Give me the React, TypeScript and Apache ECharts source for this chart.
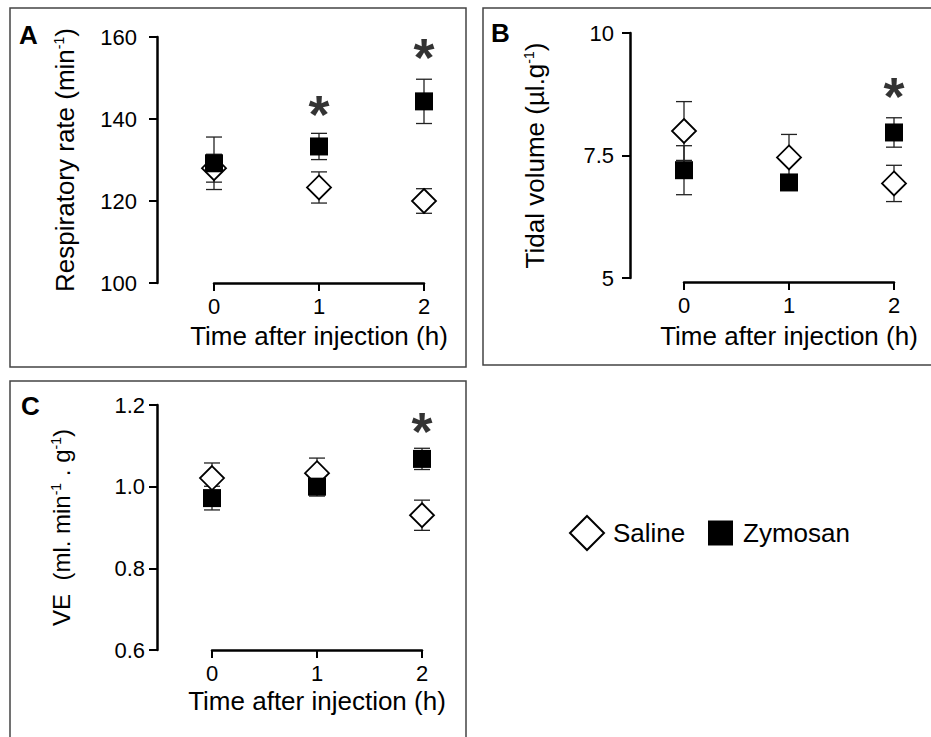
import React, { useEffect, useRef } from 'react';
import * as echarts from 'echarts';

// ---------- data ----------
const timePoints = [0, 1, 2];

// Panel A: respiratory rate (min^-1)
const rrSalineMean = [128, 123.3, 120];
const rrSalineSem = [3.4, 3.8, 3.0];
const rrZymosanMean = [129.2, 133.3, 144.3];
const rrZymosanSem = [6.4, 3.2, 5.4];
const rrStarX = [1, 2];
const rrStarY = [143.2, 157.1];
const rrAxis = { min: 100, max: 160, interval: 20 };

// Panel B: tidal volume (µl.g^-1)
const tvSalineMean = [8.0, 7.46, 6.93];
const tvSalineSem = [0.6, 0.47, 0.37];
const tvZymosanMean = [7.2, 6.95, 7.97];
const tvZymosanSem = [0.5, 0.1, 0.3];
const tvStarX = [2];
const tvStarY = [8.88];
const tvAxis = { min: 5, max: 10, interval: 2.5 };

// Panel C: VE (ml.min^-1.g^-1)
const veSalineMean = [1.021, 1.033, 0.93];
const veSalineSem = [0.037, 0.037, 0.037];
const veZymosanMean = [0.972, 1.0, 1.068];
const veZymosanSem = [0.029, 0.023, 0.026];
const veStarX = [2];
const veStarY = [1.156];
const veAxis = { min: 0.6, max: 1.2, interval: 0.2 };

const xTitle = 'Time after injection (h)';
const FONT = 'Liberation Sans, Arial, Helvetica, sans-serif';

type Panel = {
  salMean: number[]; salSem: number[]; zyMean: number[]; zySem: number[];
  starX: number[]; starY: number[];
  axis: { min: number; max: number; interval: number };
  grid: { left: number; top: number; width: number; height: number };
  yOffset: number; xOffset: number; labelMargin: number; nameGap: number; xNameGap: number;
  yName: string; yNameSize: number; fmt: (v: number) => string;
};

const panels: Panel[] = [
  {
    salMean: rrSalineMean, salSem: rrSalineSem, zyMean: rrZymosanMean, zySem: rrZymosanSem,
    starX: rrStarX, starY: rrStarY, axis: rrAxis,
    grid: { left: 214, top: 37, width: 210, height: 246 },
    yOffset: 57, xOffset: 0, labelMargin: 20, nameGap: 79, xNameGap: 40,
    yName: '{m|Respiratory rate (min}{s|-1}{m|)}', yNameSize: 26,
    fmt: (v) => String(Math.round(v)),
  },
  {
    salMean: tvSalineMean, salSem: tvSalineSem, zyMean: tvZymosanMean, zySem: tvZymosanSem,
    starX: tvStarX, starY: tvStarY, axis: tvAxis,
    grid: { left: 684, top: 33, width: 210, height: 245 },
    yOffset: 54, xOffset: 4, labelMargin: 16, nameGap: 82, xNameGap: 41,
    yName: '{m|Tidal volume (µl.g}{s|-1}{m|)}', yNameSize: 26,
    fmt: (v) => (Math.abs(v - Math.round(v)) < 1e-6 ? String(Math.round(v)) : v.toFixed(1)),
  },
  {
    salMean: veSalineMean, salSem: veSalineSem, zyMean: veZymosanMean, zySem: veZymosanSem,
    starX: veStarX, starY: veStarY, axis: veAxis,
    grid: { left: 212, top: 405, width: 210, height: 245 },
    yOffset: 55, xOffset: 0, labelMargin: 12, nameGap: 84, xNameGap: 38,
    yName: '{m|VE  (ml. min}{s|-1}{m| . g}{s|-1}{m|)}', yNameSize: 24,
    fmt: (v) => v.toFixed(1),
  },
];

function errorBarSeries(name: string, idx: number, mean: number[], sem: number[]) {
  return {
    type: 'custom',
    name,
    xAxisIndex: idx,
    yAxisIndex: idx,
    z: 1,
    silent: true,
    encode: { x: 0, y: [1, 2] },
    data: timePoints.map((t, i) => [t, mean[i] - sem[i], mean[i] + sem[i]]),
    renderItem: (_params: any, api: any) => {
      const x = api.value(0);
      const a = api.coord([x, api.value(1)]);
      const b = api.coord([x, api.value(2)]);
      const hw = 8;
      const style = { stroke: '#222', lineWidth: 1.3 };
      return {
        type: 'group',
        children: [
          { type: 'line', shape: { x1: a[0], y1: a[1], x2: b[0], y2: b[1] }, style },
          { type: 'line', shape: { x1: a[0] - hw, y1: a[1], x2: a[0] + hw, y2: a[1] }, style },
          { type: 'line', shape: { x1: b[0] - hw, y1: b[1], x2: b[0] + hw, y2: b[1] }, style },
        ],
      };
    },
  };
}

function buildOption() {
  const grids: any[] = [];
  const xAxes: any[] = [];
  const yAxes: any[] = [];
  const series: any[] = [];

  panels.forEach((p, i) => {
    grids.push({ ...p.grid, containLabel: false });
    xAxes.push({
      gridIndex: i,
      type: 'value',
      min: 0,
      max: 2,
      interval: 1,
      offset: p.xOffset,
      axisLine: { show: true, onZero: false, lineStyle: { color: '#000', width: 2.5 } },
      axisTick: { show: true, length: 8, lineStyle: { color: '#000', width: 2 } },
      axisLabel: { fontSize: 22, color: '#000', margin: 12, fontFamily: FONT },
      splitLine: { show: false },
      name: xTitle,
      nameLocation: 'middle',
      nameGap: p.xNameGap,
      nameTextStyle: { fontSize: 26, color: '#000', fontFamily: FONT },
    });
    yAxes.push({
      gridIndex: i,
      type: 'value',
      min: p.axis.min,
      max: p.axis.max,
      interval: p.axis.interval,
      offset: p.yOffset,
      axisLine: { show: true, onZero: false, lineStyle: { color: '#000', width: 2.5 } },
      axisTick: { show: true, length: 8, lineStyle: { color: '#000', width: 2 } },
      axisLabel: { fontSize: 22, color: '#000', margin: p.labelMargin, formatter: p.fmt, fontFamily: FONT },
      splitLine: { show: false },
      name: p.yName,
      nameLocation: 'middle',
      nameGap: p.nameGap,
      nameRotate: 90,
      nameTextStyle: {
        color: '#000',
        fontFamily: FONT,
        rich: {
          m: { fontSize: p.yNameSize, color: '#000', fontFamily: FONT, verticalAlign: 'bottom' },
          s: { fontSize: 14, color: '#000', fontFamily: FONT, verticalAlign: 'top' },
        },
      },
    });

    series.push(errorBarSeries('Saline err', i, p.salMean, p.salSem));
    series.push(errorBarSeries('Zymosan err', i, p.zyMean, p.zySem));
    series.push({
      type: 'scatter',
      name: 'Saline',
      xAxisIndex: i,
      yAxisIndex: i,
      z: 2,
      symbol: 'diamond',
      symbolSize: 24,
      itemStyle: { color: '#fff', borderColor: '#000', borderWidth: 1.8, opacity: 1 },
      data: timePoints.map((t, k) => [t, p.salMean[k]]),
    });
    series.push({
      type: 'scatter',
      name: 'Zymosan',
      xAxisIndex: i,
      yAxisIndex: i,
      z: 3,
      symbol: 'rect',
      symbolSize: 18,
      itemStyle: { color: '#000', borderColor: '#000', borderWidth: 0, opacity: 1 },
      data: timePoints.map((t, k) => [t, p.zyMean[k]]),
    });
    series.push({
      type: 'scatter',
      name: 'sig',
      xAxisIndex: i,
      yAxisIndex: i,
      z: 4,
      silent: true,
      symbolSize: 1,
      itemStyle: { color: 'rgba(0,0,0,0)' },
      label: {
        show: true,
        position: 'inside',
        formatter: '*',
        fontSize: 54,
        fontWeight: 'bold',
        color: '#000',
        fontFamily: FONT,
        offset: [0, 8],
      },
      data: p.starX.map((x, k) => [x, p.starY[k]]),
    });
  });

  const boxStyle = { fill: 'none', stroke: '#444', lineWidth: 1.5 };
  const letterStyle = { fontSize: 26, fontWeight: 'bold', fill: '#000', fontFamily: FONT };

  return {
    animation: false,
    backgroundColor: '#fff',
    textStyle: { fontFamily: FONT },
    grid: grids,
    xAxis: xAxes,
    yAxis: yAxes,
    series,
    legend: [
      {
        data: ['Saline'],
        left: 569,
        top: 515,
        padding: 0,
        itemWidth: 34,
        itemHeight: 34,
        selectedMode: false,
        textStyle: { fontSize: 26, color: '#000', fontFamily: FONT, padding: [0, 0, 0, 4] },
      },
      {
        data: ['Zymosan'],
        left: 708,
        top: 520,
        padding: 0,
        itemWidth: 25,
        itemHeight: 25,
        selectedMode: false,
        textStyle: { fontSize: 26, color: '#000', fontFamily: FONT, padding: [0, 0, 0, 5] },
      },
    ],
    graphic: [
      { type: 'rect', shape: { x: 10, y: 8, width: 456, height: 359 }, style: boxStyle, silent: true },
      { type: 'rect', shape: { x: 483, y: 8, width: 470, height: 357 }, style: boxStyle, silent: true },
      { type: 'rect', shape: { x: 10, y: 381, width: 456, height: 380 }, style: boxStyle, silent: true },
      { type: 'text', x: 19, y: 22, style: { ...letterStyle, text: 'A' }, silent: true },
      { type: 'text', x: 491, y: 20, style: { ...letterStyle, text: 'B' }, silent: true },
      { type: 'text', x: 21, y: 393, style: { ...letterStyle, text: 'C' }, silent: true },
    ],
  };
}

export default function App() {
  const ref = useRef<HTMLDivElement>(null);
  useEffect(() => {
    if (!ref.current) return;
    const chart = echarts.init(ref.current, undefined, { renderer: 'svg' });
    chart.setOption(buildOption() as any);
    return () => chart.dispose();
  }, []);
  return (
    <div
      ref={ref}
      style={{ position: 'fixed', left: 0, top: 0, width: 931, height: 737, background: '#fff' }}
    />
  );
}
